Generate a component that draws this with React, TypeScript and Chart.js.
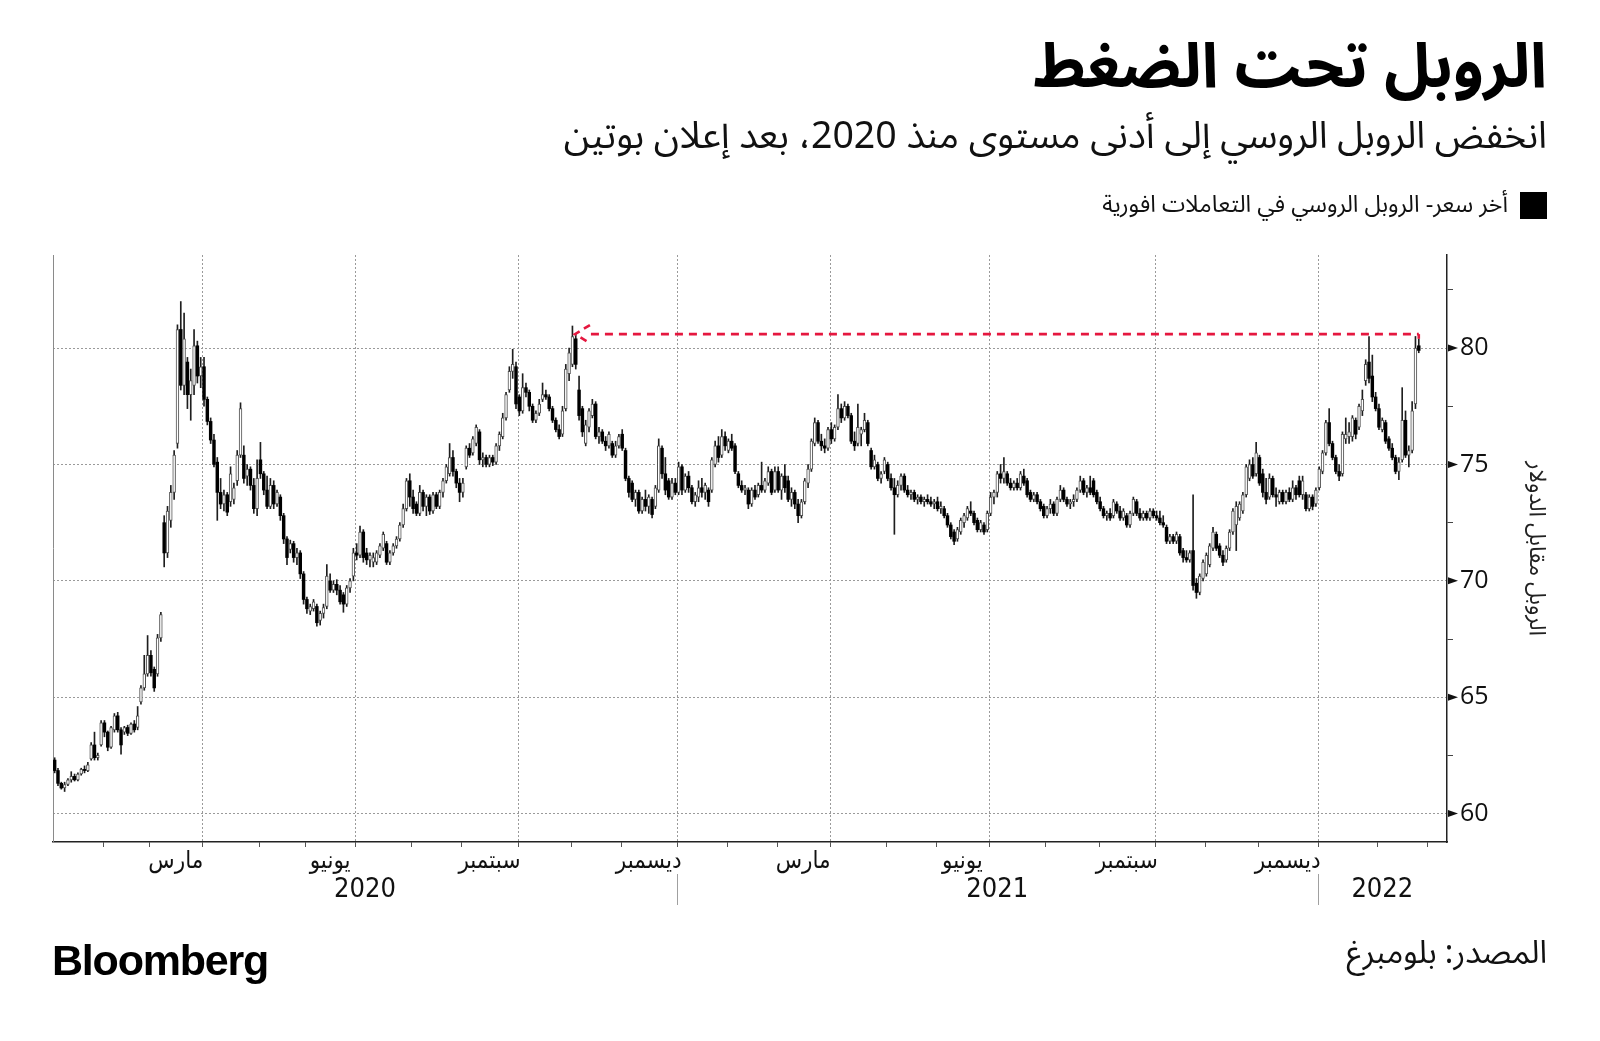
import React, { useEffect, useRef } from 'react';
import { Chart, registerables } from 'chart.js';

Chart.register(...registerables);

// ---------- DATA: USD/RUB spot, candles [open, high, low, close] ----------
const jan2020 = [
  [62.3, 62.4, 61.75, 61.85], [61.85, 61.95, 61.2, 61.3], [61.3, 61.35, 61.05, 61.1], [61.1, 61.35, 60.95, 61.25],
  [61.25, 61.5, 61.2, 61.45], [61.45, 61.8, 61.35, 61.6], [61.6, 61.7, 61.4, 61.45], [61.45, 61.75, 61.4, 61.7],
  [61.7, 61.95, 61.65, 61.9], [61.9, 62.05, 61.75, 61.85], [61.85, 62.2, 61.8, 62.1], [62.35, 63.05, 62.3, 62.95],
  [62.95, 63.5, 62.3, 62.4], [62.4, 62.6, 62.3, 62.5], [62.95, 64.0, 62.9, 63.9],
];
const feb2020 = [
  [63.9, 64.0, 63.3, 63.5], [63.5, 63.55, 62.7, 62.85], [62.85, 63.75, 62.8, 63.7], [63.6, 64.3, 63.5, 64.2],
  [64.2, 64.35, 63.5, 63.6], [63.6, 63.7, 62.55, 62.95], [63.5, 63.75, 63.4, 63.7], [63.7, 63.8, 63.35, 63.45],
  [63.45, 63.9, 63.4, 63.85], [63.85, 64.0, 63.5, 63.6], [63.7, 64.6, 63.6, 64.2], [64.8, 65.5, 64.7, 65.4],
  [65.4, 66.8, 65.3, 66.0], [66.0, 67.65, 65.9, 66.8],
];
const mar2020 = [
  [66.8, 67.0, 65.9, 66.05], [66.2, 66.3, 65.25, 65.4], [66.0, 67.7, 65.9, 67.55], [67.55, 68.65, 67.4, 68.55],
  [72.5, 72.8, 70.6, 71.2], [71.2, 73.2, 71.0, 73.0], [72.6, 74.1, 72.3, 73.8], [73.8, 75.6, 73.5, 75.4],
  [75.9, 81.0, 75.7, 80.8], [80.8, 82.0, 78.2, 78.4], [78.4, 81.5, 78.0, 80.4], [79.4, 79.6, 77.4, 78.0],
  [78.0, 79.1, 76.9, 78.6], [78.4, 80.8, 78.0, 80.1], [80.1, 80.3, 78.5, 78.8], [78.8, 79.6, 78.3, 79.2],
];
const apr2020 = [
  [79.2, 79.6, 77.5, 77.8], [77.8, 77.9, 76.7, 76.85], [76.85, 77.0, 75.9, 76.05], [76.05, 76.3, 74.9, 75.0],
  [75.1, 75.3, 72.6, 73.8], [73.8, 74.4, 73.1, 73.3], [73.3, 73.9, 73.0, 73.7], [73.7, 73.8, 72.8, 72.95],
  [73.4, 74.9, 73.2, 74.6], [73.5, 74.2, 73.3, 74.0], [74.3, 75.6, 74.1, 75.4], [75.4, 77.65, 75.3, 77.4],
  [75.4, 75.8, 74.2, 74.4], [74.5, 75.0, 74.1, 74.8], [74.8, 74.9, 73.9, 74.1], [74.1, 74.4, 72.9, 73.1],
  [73.1, 75.2, 72.8, 74.4],
];
const may2020 = [
  [75.2, 75.95, 74.4, 74.6], [74.6, 74.7, 73.7, 73.9], [73.9, 74.5, 73.1, 73.2], [73.2, 74.4, 73.1, 74.1],
  [74.1, 74.3, 73.1, 73.3], [73.3, 73.9, 73.2, 73.8], [73.6, 73.7, 72.6, 72.8], [72.8, 72.9, 71.6, 71.8],
  [71.8, 71.9, 70.7, 71.0], [71.35, 71.75, 71.2, 71.6], [71.6, 71.7, 70.8, 71.0], [71.0, 71.4, 70.7, 71.2],
  [71.2, 71.3, 70.1, 70.3], [70.3, 70.4, 69.0, 69.2],
];
const jun2020 = [
  [69.2, 69.3, 68.6, 68.8], [68.7, 69.0, 68.55, 68.9], [68.8, 69.2, 68.7, 69.1], [68.9, 69.0, 68.05, 68.2],
  [68.3, 68.7, 68.1, 68.6], [68.6, 69.0, 68.4, 68.85], [68.9, 70.7, 68.8, 70.2], [70.0, 70.3, 69.5, 69.6],
  [69.6, 70.0, 69.5, 69.85], [69.85, 70.05, 69.4, 69.6], [69.6, 69.8, 69.0, 69.1], [69.4, 69.5, 68.65, 69.0],
  [69.0, 69.8, 68.9, 69.7], [69.7, 70.1, 69.5, 70.0], [70.2, 71.4, 70.0, 71.2],
];
const jul2020 = [
  [71.2, 71.6, 70.9, 71.1], [71.1, 72.35, 71.0, 72.1], [72.1, 72.2, 70.8, 71.0], [71.2, 71.4, 70.7, 70.9],
  [70.9, 71.2, 70.6, 71.1], [70.8, 71.2, 70.6, 71.0], [70.8, 71.3, 70.7, 71.2], [71.1, 71.6, 71.0, 71.5],
  [71.4, 72.1, 71.3, 72.0], [71.6, 71.7, 70.7, 70.8], [70.8, 71.3, 70.7, 71.2], [71.2, 71.6, 71.1, 71.5],
  [71.5, 71.9, 71.4, 71.8], [71.8, 72.5, 71.7, 72.4], [72.4, 73.3, 72.3, 73.1], [73.1, 74.4, 73.0, 74.3],
  [74.3, 74.6, 73.2, 73.6],
];
const aug2020 = [
  [73.6, 73.9, 72.9, 73.1], [73.3, 73.4, 72.8, 72.9], [72.9, 74.1, 72.8, 73.8], [73.8, 73.9, 73.0, 73.2],
  [73.2, 73.7, 72.8, 73.6], [73.6, 73.7, 72.85, 73.0], [73.0, 73.8, 72.9, 73.7], [73.7, 73.8, 73.1, 73.2],
  [73.2, 73.9, 73.1, 73.8], [73.8, 74.4, 73.6, 74.3], [74.3, 75.0, 74.2, 74.9], [74.6, 75.9, 74.5, 75.3],
  [75.3, 75.6, 74.5, 74.7], [74.7, 74.8, 74.0, 74.2], [74.2, 74.4, 73.4, 73.8],
];
const sep2020 = [
  [73.8, 74.4, 73.6, 74.2], [74.9, 75.8, 74.8, 75.7], [75.7, 75.9, 75.3, 75.4], [75.5, 76.2, 75.4, 76.1],
  [75.9, 76.7, 75.8, 76.6], [76.4, 76.5, 75.0, 75.2], [75.2, 75.5, 74.9, 75.3], [75.3, 75.4, 74.9, 75.0],
  [75.0, 75.4, 74.9, 75.3], [75.3, 75.4, 74.95, 75.1], [75.1, 75.9, 75.0, 75.8], [75.8, 76.4, 75.6, 76.3],
  [76.2, 77.2, 76.1, 77.0], [77.0, 78.1, 76.9, 78.0], [78.2, 79.2, 78.1, 79.0], [79.0, 79.95, 78.7, 79.3],
  [79.2, 79.4, 77.4, 77.6],
];
const oct2020 = [
  [77.9, 78.0, 77.1, 77.3], [77.3, 78.9, 77.2, 78.3], [78.3, 78.5, 77.9, 78.1], [78.1, 78.2, 77.3, 77.5],
  [77.5, 77.6, 76.8, 76.9], [76.9, 77.3, 76.8, 77.2], [77.2, 77.8, 77.1, 77.6], [77.8, 78.5, 77.7, 78.0],
  [78.0, 78.2, 77.8, 77.9], [77.9, 78.0, 77.3, 77.4], [77.4, 77.5, 76.8, 76.9], [76.9, 77.0, 76.4, 76.5],
  [76.5, 76.7, 76.1, 76.2], [76.3, 77.5, 76.2, 77.3], [77.4, 79.3, 77.3, 79.1], [78.9, 80.0, 78.6, 79.8],
];
const nov2020 = [
  [79.3, 80.95, 79.2, 80.5], [80.4, 80.6, 79.1, 79.3], [78.2, 78.8, 76.9, 77.1], [77.4, 77.5, 76.2, 76.4],
  [75.9, 76.9, 75.8, 76.7], [76.6, 77.4, 76.4, 77.3], [77.1, 77.8, 77.0, 77.6], [77.6, 77.7, 76.1, 76.2],
  [76.2, 76.6, 75.9, 76.4], [76.4, 76.5, 75.9, 76.0], [76.0, 76.2, 75.6, 75.8], [75.8, 76.4, 75.7, 76.3],
  [75.9, 76.0, 75.3, 75.4], [75.4, 76.0, 75.3, 75.8], [75.8, 76.3, 75.7, 76.2],
];
const dec2020 = [
  [76.3, 76.5, 75.6, 75.7], [75.6, 75.7, 74.3, 74.4], [74.4, 74.5, 73.6, 73.8], [74.2, 74.3, 73.4, 73.5],
  [73.5, 73.9, 73.2, 73.8], [73.8, 73.9, 72.9, 73.0], [73.0, 73.6, 72.9, 73.5], [73.5, 73.9, 73.0, 73.2],
  [73.2, 73.7, 72.9, 73.6], [73.5, 73.6, 72.7, 72.85], [73.2, 74.1, 73.1, 74.0], [73.9, 76.1, 73.8, 75.8],
  [75.7, 75.8, 74.4, 74.6], [74.6, 75.3, 73.7, 73.9], [74.3, 74.4, 73.5, 73.6], [73.6, 74.4, 73.5, 74.2],
  [74.2, 74.4, 73.7, 73.8],
];
const jan2021 = [
  [73.8, 75.1, 73.7, 74.9], [74.9, 75.0, 73.7, 73.9], [73.9, 74.6, 73.8, 74.5], [74.5, 74.7, 73.8, 74.0],
  [74.0, 74.1, 73.3, 73.4], [73.4, 73.8, 73.2, 73.7], [73.6, 74.3, 73.4, 74.0], [74.0, 74.4, 73.6, 73.8],
  [73.8, 74.2, 73.5, 74.1], [73.9, 74.0, 73.2, 73.4], [73.9, 75.3, 73.8, 75.2], [75.0, 76.0, 74.9, 75.8],
  [75.8, 76.2, 75.1, 75.3], [75.4, 76.5, 75.3, 76.2], [76.2, 76.4, 75.6, 75.8],
];
const feb2021 = [
  [75.6, 76.1, 75.5, 76.0], [76.0, 76.3, 75.6, 75.7], [75.8, 75.9, 74.6, 74.7], [74.6, 74.7, 74.0, 74.1],
  [74.1, 74.3, 73.8, 73.9], [73.9, 74.1, 73.7, 74.0], [73.9, 74.0, 73.1, 73.3], [73.3, 74.0, 73.2, 73.9],
  [73.9, 74.1, 73.5, 73.6], [73.7, 74.2, 73.6, 74.1], [74.1, 75.1, 73.8, 73.9], [73.9, 74.4, 73.8, 74.3],
  [74.2, 74.9, 74.1, 74.7], [74.7, 74.8, 73.7, 73.8], [73.9, 74.9, 73.8, 74.7],
];
const mar2021 = [
  [74.7, 74.9, 73.8, 73.9], [73.9, 74.6, 73.5, 74.5], [74.5, 75.0, 73.8, 74.0], [74.3, 74.5, 73.4, 73.5],
  [73.5, 74.0, 73.2, 73.8], [73.8, 73.9, 73.1, 73.3], [73.3, 73.5, 72.5, 72.8], [72.8, 73.5, 72.7, 73.4],
  [73.4, 74.4, 73.3, 74.3], [74.2, 75.0, 74.0, 74.8], [74.8, 76.1, 74.7, 76.0], [75.9, 77.0, 75.8, 76.8],
  [76.8, 76.9, 75.9, 76.0], [76.0, 76.3, 75.6, 75.8], [75.8, 76.1, 75.5, 75.7], [75.7, 76.6, 75.6, 76.5],
];
const apr2021 = [
  [76.5, 76.8, 75.9, 76.1], [76.1, 76.7, 76.0, 76.6], [76.6, 78.0, 76.5, 77.4], [77.4, 77.6, 76.8, 77.0],
  [77.0, 77.7, 76.9, 77.5], [77.5, 77.6, 77.0, 77.1], [77.1, 77.2, 75.9, 76.0], [76.0, 76.4, 75.6, 75.8],
  [75.9, 77.6, 75.8, 76.6], [76.3, 76.6, 75.8, 76.5], [76.5, 77.2, 76.4, 76.9], [76.8, 76.9, 75.8, 75.9],
  [75.6, 75.7, 74.8, 74.9], [74.9, 75.4, 74.8, 75.2], [75.0, 75.1, 74.3, 74.4], [74.4, 74.7, 74.2, 74.6],
  [74.7, 75.3, 74.6, 75.2],
];
const may2021 = [
  [75.0, 75.1, 74.3, 74.4], [74.4, 74.6, 73.9, 74.0], [74.0, 74.4, 72.0, 73.7], [73.7, 74.3, 73.6, 74.1],
  [74.1, 74.6, 73.9, 74.5], [74.5, 74.6, 73.8, 73.9], [73.9, 74.1, 73.6, 73.7], [73.7, 73.9, 73.5, 73.8],
  [73.8, 73.9, 73.4, 73.5], [73.5, 73.7, 73.3, 73.6], [73.6, 73.7, 73.3, 73.4], [73.4, 73.6, 73.2, 73.5],
  [73.5, 73.7, 73.3, 73.4], [73.4, 73.6, 73.2, 73.3], [73.3, 73.5, 73.1, 73.4],
];
const jun2021 = [
  [73.4, 73.6, 73.0, 73.1], [73.1, 73.4, 72.9, 73.2], [73.1, 73.2, 72.7, 72.8], [72.8, 72.9, 72.3, 72.4],
  [72.4, 72.5, 71.8, 71.9], [72.1, 72.2, 71.55, 71.7], [71.8, 72.3, 71.7, 72.2], [72.1, 72.7, 72.0, 72.6],
  [72.5, 72.9, 72.3, 72.8], [72.7, 73.2, 72.6, 73.1], [73.0, 73.4, 72.8, 72.9], [72.9, 73.0, 72.4, 72.5],
  [72.6, 72.7, 72.1, 72.2], [72.2, 72.6, 72.1, 72.5], [72.4, 72.5, 72.0, 72.1], [72.2, 73.0, 72.1, 72.9],
];
const jul2021 = [
  [72.9, 73.8, 72.8, 73.6], [73.6, 73.9, 73.3, 73.8], [73.8, 74.7, 73.6, 74.6], [74.6, 75.0, 74.2, 74.4],
  [74.4, 75.3, 74.2, 74.7], [74.6, 74.7, 74.1, 74.2], [74.2, 74.4, 73.9, 74.0], [74.0, 74.3, 73.9, 74.2],
  [74.2, 74.4, 73.9, 74.0], [74.0, 74.7, 73.9, 74.6], [74.5, 74.8, 74.1, 74.2], [74.3, 74.4, 73.6, 73.7],
  [73.8, 73.9, 73.4, 73.5], [73.5, 73.8, 73.4, 73.7], [73.7, 73.8, 73.3, 73.4], [73.4, 73.5, 73.0, 73.1],
  [73.2, 73.3, 72.7, 72.8],
];
const aug2021 = [
  [72.8, 73.2, 72.7, 73.1], [73.1, 73.5, 72.9, 73.3], [73.3, 73.4, 72.8, 72.9], [72.9, 73.6, 72.8, 73.5],
  [73.5, 74.1, 73.4, 73.9], [73.9, 74.0, 73.4, 73.5], [73.5, 73.6, 73.2, 73.3], [73.3, 73.5, 73.1, 73.4],
  [73.4, 73.7, 73.2, 73.5], [73.5, 74.0, 73.4, 73.9], [73.9, 74.5, 73.8, 74.3], [74.3, 74.4, 73.7, 73.8],
  [73.8, 74.1, 73.6, 74.0], [74.0, 74.5, 73.7, 73.8], [74.3, 74.4, 73.6, 73.7], [73.8, 73.9, 73.3, 73.4],
];
const sep2021 = [
  [73.4, 73.6, 73.0, 73.1], [73.1, 73.2, 72.7, 72.8], [72.8, 73.0, 72.6, 72.9], [72.9, 73.1, 72.6, 72.7],
  [72.8, 73.5, 72.7, 73.4], [73.3, 73.4, 72.9, 73.0], [73.0, 73.2, 72.6, 72.7], [72.7, 73.1, 72.6, 73.0],
  [72.8, 72.9, 72.3, 72.4], [72.4, 73.0, 72.3, 72.9], [72.9, 73.6, 72.8, 73.5], [73.4, 73.5, 72.8, 72.9],
  [72.9, 73.1, 72.6, 72.7], [72.7, 73.0, 72.6, 72.9], [72.9, 73.0, 72.6, 72.7], [72.7, 73.1, 72.6, 73.0],
  [73.0, 73.1, 72.7, 72.8],
];
const oct2021 = [
  [72.8, 73.0, 72.6, 72.7], [72.7, 73.0, 72.4, 72.5], [72.5, 72.8, 72.3, 72.4], [72.3, 72.4, 71.6, 71.7],
  [71.7, 72.0, 71.6, 71.9], [71.9, 72.0, 71.6, 71.7], [71.7, 72.1, 71.6, 72.0], [71.9, 72.0, 71.1, 71.2],
  [71.3, 71.4, 70.8, 71.0], [71.0, 71.3, 70.8, 70.9], [70.9, 71.3, 70.8, 71.2], [71.3, 73.7, 69.6, 69.8],
  [69.9, 70.1, 69.25, 69.5], [69.5, 70.3, 69.4, 70.2], [70.1, 70.9, 70.0, 70.8],
];
const nov2021 = [
  [70.3, 71.2, 70.2, 71.1], [70.7, 71.6, 70.6, 71.5], [71.4, 72.3, 71.3, 72.1], [72.0, 72.1, 71.3, 71.4],
  [71.5, 71.6, 71.0, 71.1], [71.1, 71.3, 70.65, 70.8], [70.9, 71.5, 70.8, 71.4], [71.4, 72.2, 71.3, 72.1],
  [72.1, 73.1, 72.0, 73.0], [72.4, 73.4, 71.3, 73.2], [72.7, 73.4, 72.6, 73.3], [73.0, 73.8, 72.9, 73.7],
  [73.7, 75.0, 73.6, 74.9], [74.4, 75.2, 74.3, 75.0], [75.0, 75.3, 74.4, 74.5], [74.6, 75.95, 74.5, 75.5],
];
const dec2021 = [
  [75.3, 75.4, 74.1, 74.2], [74.6, 74.8, 73.6, 73.8], [73.8, 74.4, 73.3, 73.5], [73.6, 74.6, 73.5, 74.4],
  [74.4, 74.5, 73.6, 73.7], [73.7, 74.0, 73.2, 73.6], [73.4, 73.9, 73.3, 73.8], [73.8, 73.9, 73.3, 73.4],
  [73.4, 73.9, 73.3, 73.8], [73.8, 74.0, 73.4, 73.5], [73.5, 74.3, 73.4, 74.0], [74.0, 74.1, 73.5, 73.7],
  [74.3, 74.5, 73.6, 73.7], [73.7, 74.5, 73.5, 74.3], [73.7, 73.8, 73.0, 73.1], [73.1, 73.7, 73.0, 73.6],
  [73.6, 73.7, 73.05, 73.2], [73.3, 74.0, 73.2, 73.9],
];
const jan2022 = [
  [74.0, 74.9, 73.9, 74.8], [74.7, 75.6, 74.6, 75.5], [75.5, 76.9, 75.4, 76.8], [76.8, 77.4, 75.8, 75.9],
  [75.9, 76.0, 75.2, 75.3], [75.3, 75.4, 74.6, 74.7], [74.7, 75.0, 74.3, 74.5], [74.6, 76.4, 74.5, 76.3],
  [76.1, 77.0, 75.9, 76.3], [76.2, 76.8, 75.9, 76.4], [76.2, 77.1, 76.0, 77.0], [76.9, 77.0, 76.1, 76.3],
  [76.6, 77.6, 76.5, 77.5], [77.3, 78.2, 77.1, 77.8], [78.6, 79.5, 78.4, 79.3], [79.4, 80.5, 78.5, 78.7],
  [78.8, 79.7, 77.7, 77.9], [77.9, 78.1, 77.3, 77.4],
];
const feb2022 = [
  [77.4, 77.6, 76.5, 76.6], [76.5, 77.0, 76.4, 76.9], [76.8, 76.9, 75.9, 76.0], [76.1, 76.2, 75.6, 75.7],
  [75.7, 75.9, 75.2, 75.3], [75.3, 75.4, 74.6, 74.7], [74.7, 75.3, 74.35, 75.1], [75.2, 78.3, 75.1, 76.9],
  [76.9, 77.3, 75.3, 75.4], [75.4, 75.8, 74.9, 75.6], [75.6, 77.7, 75.5, 77.3], [77.6, 80.5, 77.4, 80.0],
  [80.1, 80.4, 79.8, 79.9],
];
const mar2022: number[][] = [];

const monthSeries = [
  jan2020, feb2020, mar2020, apr2020, may2020, jun2020, jul2020, aug2020, sep2020, oct2020, nov2020, dec2020,
  jan2021, feb2021, mar2021, apr2021, may2021, jun2021, jul2021, aug2021, sep2021, oct2021, nov2021, dec2021,
  jan2022, feb2022, mar2022,
];
// trading-period slots per calendar month (axis runs to mid-March 2022)
const monthSlots = [15, 14, 16, 17, 14, 15, 17, 15, 17, 16, 15, 17, 15, 15, 16, 17, 15, 16, 17, 16, 17, 15, 16, 18, 18, 15, 6];
const monthNames = ['يناير', 'فبراير', 'مارس', 'أبريل', 'مايو', 'يونيو', 'يوليو', 'أغسطس', 'سبتمبر', 'أكتوبر', 'نوفمبر', 'ديسمبر'];
const labeledMonths = [2, 5, 8, 11];
const yearLabels = ['2020', '2021', '2022'];
const yMajorTicks = [60, 65, 70, 75, 80];
const yMin = 58.78;
const yMax = 84;
const highlightLevel = 80.6;
const highlightFromMonth = 10; // November 2020, first candle

const TITLE = 'الروبل تحت الضغط';
const SUBTITLE = 'انخفض الروبل الروسي إلى أدنى مستوى منذ 2020، بعد إعلان بوتين';
const LEGEND = 'أخر سعر- الروبل الروسي في التعاملات افورية';
const Y_TITLE = 'الروبل مقابل الدولار';
const SOURCE = 'المصدر: بلومبرغ';

const ARABIC = "'Noto Sans Arabic', 'DejaVu Sans', sans-serif";
const COND = "'DejaVu Sans Condensed', 'DejaVu Sans', sans-serif";

// ---------- build category table ----------
const labels: string[] = [];
const candles: (number[] | null)[] = [];
const monthStart: number[] = [];
monthSlots.forEach((n, m) => {
  monthStart.push(labels.length);
  for (let j = 0; j < n; j++) {
    labels.push(`${m}-${j}`);
    candles.push(monthSeries[m][j] ?? null);
  }
});
monthStart.push(labels.length);
let lastIndex = 0;
candles.forEach((c, i) => { if (c) lastIndex = i; });
const highlightFrom = monthStart[highlightFromMonth];

const isUp = (c: number[] | null) => !!c && c[3] >= c[0];

const decorPlugin = {
  id: 'decor',
  beforeDatasetsDraw(chart: any) {
    const { ctx, chartArea: a, scales } = chart;
    const x = scales.x;
    const half = (x.getPixelForValue(1) - x.getPixelForValue(0)) / 2;
    const edge = (i: number) => x.getPixelForValue(i) - half;
    ctx.save();
    ctx.strokeStyle = '#8a8a8a';
    ctx.lineWidth = 1;
    ctx.beginPath();
    ctx.moveTo(Math.round(a.left) + 0.5, a.top);
    ctx.lineTo(Math.round(a.left) + 0.5, a.bottom);
    ctx.stroke();
    ctx.setLineDash([2, 2]);
    ctx.strokeStyle = '#9a9a9a';
    for (let m = 1; m < monthSlots.length; m++) {
      if (m % 3 !== 0) continue;
      const px = Math.round(edge(monthStart[m])) + 0.5;
      ctx.beginPath();
      ctx.moveTo(px, a.top);
      ctx.lineTo(px, a.bottom);
      ctx.stroke();
    }
    ctx.restore();
  },
  afterDatasetsDraw(chart: any) {
    const { ctx, scales } = chart;
    const x = scales.x;
    const y = scales.y;
    const x0 = x.getPixelForValue(highlightFrom) + 2.5;
    const x1 = x.getPixelForValue(lastIndex);
    const yl = y.getPixelForValue(highlightLevel);
    const last = candles[lastIndex] as number[];
    ctx.save();
    ctx.strokeStyle = '#e5173f';
    ctx.lineWidth = 2.6;
    ctx.setLineDash([8, 6]);
    ctx.beginPath();
    ctx.moveTo(x0 + 16, yl);
    ctx.lineTo(x1, yl);
    ctx.stroke();
    ctx.setLineDash([]);
    ctx.beginPath();
    ctx.moveTo(x1, yl);
    ctx.lineTo(x1, y.getPixelForValue(last[1]));
    ctx.stroke();
    ctx.setLineDash([7, 5]);
    ctx.beginPath();
    ctx.moveTo(x0 + 15, yl - 9);
    ctx.lineTo(x0, yl);
    ctx.lineTo(x0 + 15, yl + 9);
    ctx.stroke();
    ctx.restore();
  },
  afterDraw(chart: any) {
    const { ctx, chartArea: a, scales } = chart;
    const x = scales.x;
    const y = scales.y;
    const half = (x.getPixelForValue(1) - x.getPixelForValue(0)) / 2;
    const edge = (i: number) => x.getPixelForValue(i) - half;
    ctx.save();
    // month tick marks
    ctx.strokeStyle = '#555';
    ctx.lineWidth = 1;
    for (let m = 1; m < monthSlots.length; m++) {
      const px = Math.round(edge(monthStart[m])) + 0.5;
      ctx.beginPath();
      ctx.moveTo(px, a.bottom);
      ctx.lineTo(px, a.bottom + 5);
      ctx.stroke();
    }
    // month labels (only months that hold data)
    ctx.fillStyle = '#111';
    ctx.font = `24px ${COND}`;
    ctx.textAlign = 'center';
    ctx.textBaseline = 'middle';
    for (let m = 0; m < monthSlots.length; m++) {
      if (!labeledMonths.includes(m % 12) || monthSeries[m].length === 0) continue;
      const cx = (edge(monthStart[m]) + edge(monthStart[m + 1])) / 2;
      ctx.fillText(monthNames[m % 12], cx, a.bottom + 20);
    }
    // year labels and separators
    ctx.font = `27px ${COND}`;
    yearLabels.forEach((yl, i) => {
      const s = edge(monthStart[i * 12]);
      const e = i * 12 + 12 < monthSlots.length ? edge(monthStart[i * 12 + 12]) : a.right;
      ctx.fillText(yl, (Math.max(s, a.left) + Math.min(e, a.right)) / 2, a.bottom + 48);
      if (i > 0) {
        const px = Math.round(s) + 0.5;
        ctx.strokeStyle = '#a0a0a0';
        ctx.beginPath();
        ctx.moveTo(px, a.bottom + 32);
        ctx.lineTo(px, a.bottom + 63);
        ctx.stroke();
      }
    });
    // y major tick markers
    ctx.fillStyle = '#111';
    yMajorTicks.forEach((v) => {
      const py = y.getPixelForValue(v);
      ctx.beginPath();
      ctx.moveTo(a.right + 1, py - 3.5);
      ctx.lineTo(a.right + 11, py);
      ctx.lineTo(a.right + 1, py + 3.5);
      ctx.closePath();
      ctx.fill();
    });
    ctx.restore();
  },
};

export default function App() {
  const ref = useRef<HTMLCanvasElement>(null);
  useEffect(() => {
    const chart = new Chart(ref.current as HTMLCanvasElement, {
      type: 'bar',
      data: {
        labels,
        datasets: [
          {
            label: 'wick',
            data: candles.map((c) => (c ? [c[2], c[1]] : null)) as any,
            backgroundColor: '#1e1e1e',
            barThickness: 1,
            grouped: false,
            order: 2,
          } as any,
          {
            label: 'body',
            data: candles.map((c) => (c ? [Math.min(c[0], c[3]), Math.max(c[0], c[3])] : null)) as any,
            backgroundColor: candles.map((c) => (isUp(c) ? '#ffffff' : '#000000')),
            borderColor: candles.map((c) => (isUp(c) ? '#505050' : '#000000')),
            borderWidth: candles.map((c) => (isUp(c) ? 1 : 0)),
            borderSkipped: false,
            barThickness: 2.8,
            minBarLength: 1,
            grouped: false,
            order: 1,
          } as any,
        ],
      },
      options: {
        responsive: false,
        animation: false,
        devicePixelRatio: 1,
        layout: { padding: { left: 53, top: 255, right: 53, bottom: 189 } },
        plugins: { legend: { display: false }, tooltip: { enabled: false } },
        scales: {
          x: {
            type: 'category',
            offset: true,
            afterFit: (s: any) => { s.height = 10; },
            ticks: { display: false },
            grid: { display: false },
            border: { display: true, color: '#222', width: 1.5 },
          },
          y: {
            position: 'right',
            min: yMin,
            max: yMax,
            afterFit: (s: any) => { s.width = 100; },
            ticks: {
              stepSize: 2.5,
              includeBounds: false,
              autoSkip: false,
              padding: 7,
              color: '#111',
              font: { family: "'Open Sans', 'Noto Sans', sans-serif", size: 25 },
              callback: (v: any) => (Number(v) % 5 === 0 ? String(v) : ''),
            },
            grid: {
              color: (c: any) => (c.tick && c.tick.value % 5 === 0 ? '#9a9a9a' : 'rgba(0,0,0,0)'),
              tickColor: (c: any) => (c.tick && c.tick.value % 5 === 0 ? 'rgba(0,0,0,0)' : '#444'),
              tickLength: 6,
              lineWidth: 1,
            },
            border: { display: true, color: '#222', width: 1.5, dash: [2, 2] },
            title: {
              display: true,
              text: Y_TITLE,
              color: '#222',
              font: { family: ARABIC, size: 23 },
              padding: { top: 0, bottom: 0 },
            },
          },
        },
      } as any,
      plugins: [decorPlugin],
    });
    return () => chart.destroy();
  }, []);

  return (
    <div style={{ position: 'absolute', left: 0, top: 0, width: 1600, height: 1041, background: '#fff', overflow: 'hidden' }}>
      <canvas ref={ref} width={1600} height={1041} style={{ position: 'absolute', left: 0, top: 0, width: 1600, height: 1041 }} />
      <div dir="rtl" style={{ position: 'absolute', right: 53, top: 25, font: `700 62px ${ARABIC}`, lineHeight: '86px', color: '#000', whiteSpace: 'nowrap' }}>{TITLE}</div>
      <div dir="rtl" style={{ position: 'absolute', right: 53, top: 110, font: `37.5px ${ARABIC}`, lineHeight: '52px', color: '#111', whiteSpace: 'nowrap' }}>{SUBTITLE}</div>
      <div style={{ position: 'absolute', left: 1520, top: 192, width: 27, height: 27, background: '#000' }} />
      <div dir="rtl" style={{ position: 'absolute', right: 92, top: 188, font: `23.5px ${ARABIC}`, lineHeight: '34px', color: '#111', whiteSpace: 'nowrap' }}>{LEGEND}</div>
      <div dir="rtl" style={{ position: 'absolute', right: 53, top: 929, font: `32px ${ARABIC}`, lineHeight: '48px', color: '#111', whiteSpace: 'nowrap' }}>{SOURCE}</div>
      <div style={{ position: 'absolute', left: 52, top: 935, font: "700 43px 'Liberation Sans', Arial, sans-serif", lineHeight: '50px', letterSpacing: '-1.2px', color: '#000' }}>Bloomberg</div>
    </div>
  );
}
